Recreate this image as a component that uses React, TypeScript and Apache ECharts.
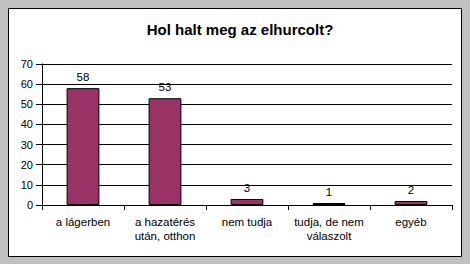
import React, { useEffect, useRef } from "react";
import * as echarts from "echarts";

const title = "Hol halt meg az elhurcolt?";
const categories = ["a lágerben", "a hazatérés\nután, otthon", "nem tudja", "tudja, de nem\nválaszolt", "egyéb"];
const values = [58, 53, 3, 1, 2];
const yTicks = [0, 10, 20, 30, 40, 50, 60, 70];

export default function App() {
  const ref = useRef<HTMLDivElement>(null);
  useEffect(() => {
    if (!ref.current) return;
    const chart = echarts.init(ref.current, null, { renderer: "svg" });
    const font = "Liberation Sans, Arial, sans-serif";
    chart.setOption({
      animation: false,
      backgroundColor: "#c0c0c0",
      graphic: [
        {
          type: "rect",
          shape: { x: 8.5, y: 8.5, width: 453, height: 248 },
          style: { fill: "#ffffff", stroke: "#000000", lineWidth: 1 },
          z: -10,
        },
      ],
      title: {
        text: title,
        left: 235,
        top: 17,
        textAlign: "center",
        textStyle: { fontFamily: font, fontSize: 15, fontWeight: "bold", color: "#000" },
      },
      grid: { left: 42, right: 18, top: 64, bottom: 59, containLabel: false },
      xAxis: {
        type: "category",
        data: categories,
        axisLine: { lineStyle: { color: "#000", width: 1 } },
        axisTick: { show: true, length: 5, lineStyle: { color: "#000" }, alignWithLabel: false },
        axisLabel: { fontFamily: font, fontSize: 11.5, color: "#000", margin: 10, lineHeight: 14, interval: 0 },
      },
      yAxis: {
        type: "value",
        min: yTicks[0],
        max: yTicks[yTicks.length - 1],
        interval: 10,
        axisLine: { show: true, lineStyle: { color: "#000", width: 1 } },
        axisTick: { show: true, length: 6, lineStyle: { color: "#000" } },
        splitLine: { show: true, lineStyle: { color: "#000", width: 1 } },
        axisLabel: { fontFamily: font, fontSize: 11, color: "#000", margin: 9 },
      },
      series: [
        {
          type: "bar",
          data: values,
          barWidth: "40%",
          itemStyle: { color: "#993366", borderColor: "#000", borderWidth: 1 },
          label: { show: true, position: "top", distance: 5, fontFamily: font, fontSize: 11.5, color: "#000" },
        },
      ],
    });
    return () => chart.dispose();
  }, []);
  return (
    <div
      ref={ref}
      style={{ position: "fixed", left: 0, top: 0, width: 470, height: 264 }}
    />
  );
}
